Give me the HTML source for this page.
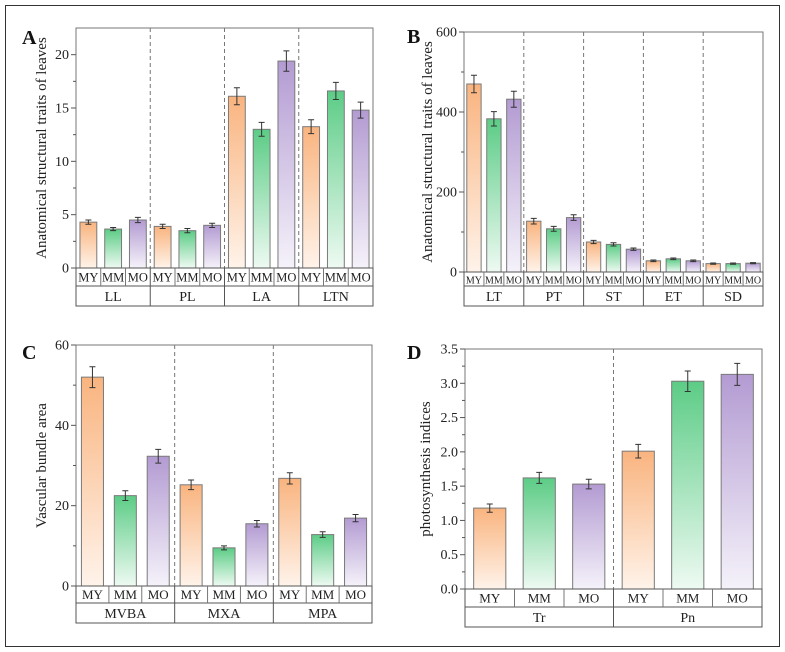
<!DOCTYPE html>
<html><head><meta charset="utf-8">
<style>
html,body{margin:0;padding:0;background:#fff;overflow:hidden;}
svg{display:block;}
text{font-family:"Liberation Serif","DejaVu Serif",serif;}
</style></head>
<body>
<svg id="fig" width="785" height="652" viewBox="0 0 785 652" xmlns="http://www.w3.org/2000/svg">
<defs>
<linearGradient id="gY" x1="0" y1="0" x2="0" y2="1"><stop offset="0" stop-color="#f9b47f"/><stop offset="1" stop-color="#fff3ea"/></linearGradient>
<linearGradient id="gM" x1="0" y1="0" x2="0" y2="1"><stop offset="0" stop-color="#5ccc86"/><stop offset="1" stop-color="#eefaf2"/></linearGradient>
<linearGradient id="gO" x1="0" y1="0" x2="0" y2="1"><stop offset="0" stop-color="#b39bd2"/><stop offset="1" stop-color="#f5f2fa"/></linearGradient>
</defs>
<rect x="5.5" y="5.5" width="774" height="641" fill="none" stroke="#333" stroke-width="1"/>
</svg>
<script>
// ---- data ----
const seriesNames = ["MY","MM","MO"];
const aGroups = ["LL","PL","LA","LTN"];
const aMY = [4.3,3.9,16.1,13.25];
const aMM = [3.65,3.5,13.0,16.6];
const aMO = [4.5,4.0,19.4,14.8];
const aErrMY = [0.2,0.2,0.8,0.65];
const aErrMM = [0.15,0.2,0.65,0.8];
const aErrMO = [0.25,0.2,0.95,0.75];
const aTicks = [0,5,10,15,20];

const bGroups = ["LT","PT","ST","ET","SD"];
const bMY = [470,127,75,28,21];
const bMM = [383,108,69,33,21];
const bMO = [432,136,57,28,22];
const bErrMY = [22,7,4,2,1.5];
const bErrMM = [18,6,4,2,1.5];
const bErrMO = [20,7,3,2,1.5];
const bTicks = [0,200,400,600];

const cGroups = ["MVBA","MXA","MPA"];
const cMY = [52,25.2,26.8];
const cMM = [22.5,9.5,12.8];
const cMO = [32.3,15.5,16.9];
const cErrMY = [2.6,1.2,1.4];
const cErrMM = [1.2,0.5,0.7];
const cErrMO = [1.7,0.8,0.9];
const cTicks = [0,20,40,60];

const dGroups = ["Tr","Pn"];
const dMY = [1.18,2.01];
const dMM = [1.62,3.03];
const dMO = [1.53,3.13];
const dErrMY = [0.06,0.1];
const dErrMM = [0.08,0.15];
const dErrMO = [0.07,0.16];
const dTicks = [0,0.5,1.0,1.5,2.0,2.5,3.0,3.5];

const NS="http://www.w3.org/2000/svg";
const svg=document.getElementById('fig');
function mk(tag,attrs,parent,text){
  const e=document.createElementNS(NS,tag);
  for(const k in attrs)e.setAttribute(k,attrs[k]);
  if(text!==undefined)e.textContent=text;
  (parent||svg).appendChild(e);return e;
}
const fills=["url(#gY)","url(#gM)","url(#gO)"];

function panel(cfg){
  const {id,letter,lx,ly,x0,x1,yTop,y0,row1,row2,ymax,ticks,groups,vals,errs,barFrac,ylabel,ylx,tickFmt,catFont}=cfg;
  const g=mk('g',{});
  
  
  const ys=v=>y0-(v/ymax)*(y0-yTop);
  const gw=(x1-x0)/groups.length, sw=gw/3, bw=sw*barFrac;
  const L=mk('text',{x:lx,y:ly,'font-size':20,'font-weight':'bold',fill:'#111'},g,letter);
  
  
  const fr=mk('rect',{x:x0,y:yTop,width:x1-x0,height:y0-yTop,fill:'none',stroke:'#777','stroke-width':1},g);
  
  
  for(let i=1;i<groups.length;i++){
    const x=x0+gw*i;
    const dl=mk('line',{x1:x,y1:yTop,x2:x,y2:y0,stroke:'#777','stroke-dasharray':'4,3','stroke-width':1},g);
    
    
  }
  ticks.forEach(t=>{
    const y=ys(t);
    mk('line',{x1:x0-5,y1:y,x2:x0,y2:y,stroke:'#555'},g);
    const tl=mk('text',{x:x0-7,y:y+4.5,'font-size':14,'text-anchor':'end',fill:'#222'},g,tickFmt(t));
    
    
  });
  for(let i=0;i<ticks.length-1;i++){
    const m=(ticks[i]+ticks[i+1])/2, y=ys(m);
    mk('line',{x1:x0-3,y1:y,x2:x0,y2:y,stroke:'#555'},g);
  }
  const yl=mk('text',{x:0,y:0,'font-size':15,'text-anchor':'middle',fill:'#222',transform:`translate(${ylx},${(yTop+y0)/2}) rotate(-90)`},g,ylabel);
  
  
  groups.forEach((gn,gi)=>{
    for(let s=0;s<3;s++){
      const v=vals[s][gi], e=errs[s][gi];
      const cx=x0+gi*gw+sw*(s+0.5);
      const r=mk('rect',{x:cx-bw/2,y:ys(v),width:bw,height:y0-ys(v),fill:fills[s],stroke:'#7a7a7a','stroke-width':1},g);
      
      
      const eb=mk('path',{d:`M${cx},${ys(v+e)}V${ys(v-e)}M${cx-3},${ys(v+e)}H${cx+3}M${cx-3},${ys(v-e)}H${cx+3}`,stroke:'#333','stroke-width':1,fill:'none'},g);
      
      
    }
  });
  mk('line',{x1:x0,y1:row1,x2:x1,y2:row1,stroke:'#555'},g);
  mk('rect',{x:x0,y:y0,width:x1-x0,height:row2-y0,fill:'none',stroke:'#555'},g);
  groups.forEach((gn,gi)=>{
    const gx=x0+gi*gw;
    if(gi>0)mk('line',{x1:gx,y1:y0,x2:gx,y2:row2,stroke:'#555'},g);
    for(let s=0;s<3;s++){
      if(s>0)mk('line',{x1:gx+sw*s,y1:y0,x2:gx+sw*s,y2:row1,stroke:'#777'},g);
      const t=mk('text',{x:gx+sw*(s+0.5),y:(y0+row1)/2+4.5,'font-size':catFont,'text-anchor':'middle',fill:'#222'},g,seriesNames[s]);
      
      
    }
    const gt=mk('text',{x:gx+gw/2,y:(row1+row2)/2+5,'font-size':14,'text-anchor':'middle',fill:'#222'},g,gn);
    
    
  });
}

panel({id:'a',letter:'A',lx:22,ly:44,x0:76,x1:373,yTop:28,y0:268,row1:286,row2:306,ymax:22.5,ticks:aTicks,
  groups:aGroups,vals:[aMY,aMM,aMO],errs:[aErrMY,aErrMM,aErrMO],barFrac:0.68,ylabel:'Anatomical structural traits of leaves',ylx:46,tickFmt:t=>String(t),catFont:12.5});
panel({id:'b',letter:'B',lx:407,ly:43,x0:464,x1:763,yTop:32,y0:272,row1:286,row2:306,ymax:600,ticks:bTicks,
  groups:bGroups,vals:[bMY,bMM,bMO],errs:[bErrMY,bErrMM,bErrMO],barFrac:0.72,ylabel:'Anatomical structural traits of leaves',ylx:432,tickFmt:t=>String(t),catFont:10});
panel({id:'c',letter:'C',lx:22,ly:359,x0:76,x1:372,yTop:345,y0:586,row1:603,row2:623,ymax:60,ticks:cTicks,
  groups:cGroups,vals:[cMY,cMM,cMO],errs:[cErrMY,cErrMM,cErrMO],barFrac:0.67,ylabel:'Vascular bundle area',ylx:46,tickFmt:t=>String(t),catFont:13});
panel({id:'d',letter:'D',lx:407,ly:359,x0:465,x1:762,yTop:349,y0:589,row1:607,row2:627,ymax:3.5,ticks:dTicks,
  groups:dGroups,vals:[dMY,dMM,dMO],errs:[dErrMY,dErrMM,dErrMO],barFrac:0.65,ylabel:'photosynthesis indices',ylx:430,tickFmt:t=>t.toFixed(1),catFont:13});
</script>
</body></html>
